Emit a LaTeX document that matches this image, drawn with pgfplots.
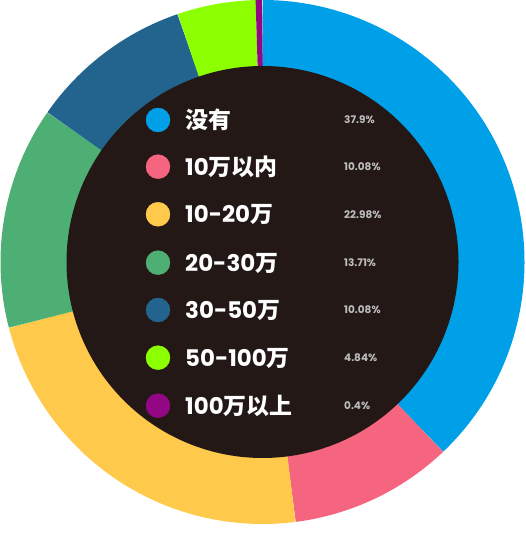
\documentclass[border=0pt]{standalone}
\usepackage{pgfplots}
\pgfplotsset{compat=1.18}
\usepackage{pgfplotstable}
\usepackage{fontspec}
\newfontfamily\cjk{Noto Sans CJK SC}
\newfontfamily\pop{Poppins}
\definecolor{cA}{HTML}{00A0E9}
\definecolor{cB}{HTML}{F5657F}
\definecolor{cC}{HTML}{FFCA4B}
\definecolor{cD}{HTML}{4DAF74}
\definecolor{cE}{HTML}{22648E}
\definecolor{cF}{HTML}{8CFF00}
\definecolor{cG}{HTML}{930784}
\definecolor{dark}{HTML}{231815}
\definecolor{pct}{HTML}{BDBDBD}

\pgfplotstableread{
value
37.9
10.08
22.98
13.71
10.08
4.84
0.4
}\shares

\def\cum{0}
\foreach \i/\n in {0/a,1/b,2/c,3/d,4/e,5/f,6/g}{%
  \pgfplotstablegetelem{\i}{value}\of\shares
  \pgfmathsetmacro\nxt{\cum+\pgfplotsretval*3.6}%
  \expandafter\xdef\csname segS\n\endcsname{\cum}%
  \expandafter\xdef\csname segE\n\endcsname{\nxt}%
  \xdef\cum{\nxt}%
}

\newcommand\lab[1]{{\fontsize{23}{25}\selectfont\bfseries\color{white}#1}}
\newcommand\Pn[1]{{\pop\bfseries #1}}
\newcommand\Cn[1]{{\cjk\bfseries #1}}
\newcommand\pc[1]{{\pop\bfseries\fontsize{10.5}{12}\selectfont\color{pct}#1}}

\begin{document}
\begin{tikzpicture}
\begin{axis}[
  scale only axis, width=525bp, height=540bp,
  xmin=-262.5, xmax=262.5, ymin=-278, ymax=262,
  hide axis, clip=false,
]
\addplot[draw=none] coordinates {(-262.5,-278) (262.5,262)};
% ring segments
\addplot[draw=cA, line width=67bp, line cap=butt, domain=\segSa:\segEa, samples=140] ({228.5*sin(x)},{228.5*cos(x)});
\addplot[draw=cB, line width=67bp, line cap=butt, domain=\segSb:\segEb, samples=60] ({228.5*sin(x)},{228.5*cos(x)});
\addplot[draw=cC, line width=67bp, line cap=butt, domain=\segSc:\segEc, samples=100] ({228.5*sin(x)},{228.5*cos(x)});
\addplot[draw=cD, line width=67bp, line cap=butt, domain=\segSd:\segEd, samples=70] ({228.5*sin(x)},{228.5*cos(x)});
\addplot[draw=cE, line width=67bp, line cap=butt, domain=\segSe:\segEe, samples=60] ({228.5*sin(x)},{228.5*cos(x)});
\addplot[draw=cF, line width=67bp, line cap=butt, domain=\segSf:\segEf, samples=30] ({228.5*sin(x)},{228.5*cos(x)});
\addplot[draw=cG, line width=67bp, line cap=butt, domain=\segSg:\segEg, samples=5] ({228.5*sin(x)},{228.5*cos(x)});
% dark centre
\addplot[fill=dark, draw=none, domain=0:360, samples=241] ({196*cos(x)},{196*sin(x)});
% legend markers
\addplot[only marks, mark=*, mark size=12bp, color=cA] coordinates {(-104.5,142)};
\addplot[only marks, mark=*, mark size=12bp, color=cB] coordinates {(-104.5,95.3)};
\addplot[only marks, mark=*, mark size=12bp, color=cC] coordinates {(-104.5,47.7)};
\addplot[only marks, mark=*, mark size=12bp, color=cD] coordinates {(-104.5,-0.7)};
\addplot[only marks, mark=*, mark size=12bp, color=cE] coordinates {(-104.5,-48)};
\addplot[only marks, mark=*, mark size=12bp, color=cF] coordinates {(-104.5,-95.7)};
\addplot[only marks, mark=*, mark size=12bp, color=cG] coordinates {(-104.5,-143.7)};
% legend text
\node[anchor=base west, inner sep=0] at (axis cs:-77.5,133.5) {\lab{\Cn{没有}}};
\node[anchor=base west, inner sep=0] at (axis cs:-77.5,86.8) {\lab{\Pn{10}\Cn{万以内}}};
\node[anchor=base west, inner sep=0] at (axis cs:-77.5,39.2) {\lab{\Pn{10-20}\Cn{万}}};
\node[anchor=base west, inner sep=0] at (axis cs:-77.5,-9.2) {\lab{\Pn{20-30}\Cn{万}}};
\node[anchor=base west, inner sep=0] at (axis cs:-77.5,-56.5) {\lab{\Pn{30-50}\Cn{万}}};
\node[anchor=base west, inner sep=0] at (axis cs:-77.5,-104.2) {\lab{\Pn{50-100}\Cn{万}}};
\node[anchor=base west, inner sep=0] at (axis cs:-77.5,-152.2) {\lab{\Pn{100}\Cn{万以上}}};
% percentages
\node[anchor=base west, inner sep=0] at (axis cs:81.5,138) {\pc{37.9\%}};
\node[anchor=base west, inner sep=0] at (axis cs:81.5,91.3) {\pc{10.08\%}};
\node[anchor=base west, inner sep=0] at (axis cs:81.5,43.7) {\pc{22.98\%}};
\node[anchor=base west, inner sep=0] at (axis cs:81.5,-4.7) {\pc{13.71\%}};
\node[anchor=base west, inner sep=0] at (axis cs:81.5,-52) {\pc{10.08\%}};
\node[anchor=base west, inner sep=0] at (axis cs:81.5,-99.7) {\pc{4.84\%}};
\node[anchor=base west, inner sep=0] at (axis cs:81.5,-147.7) {\pc{0.4\%}};
\end{axis}
\end{tikzpicture}
\end{document}
